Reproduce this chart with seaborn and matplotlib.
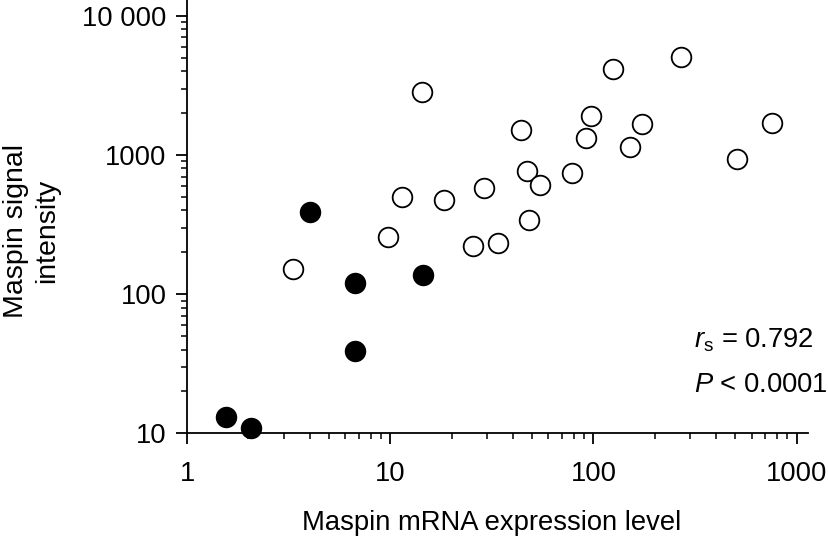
import matplotlib
matplotlib.use("Agg")
import matplotlib.pyplot as plt
import seaborn as sns
import numpy as np
import pandas as pd
from matplotlib.ticker import LogLocator, FixedLocator, NullFormatter

# ---- data ----
filled_x = [1.55, 2.06, 4.02, 6.69, 6.69, 14.4]
filled_y = [13.1, 10.9, 392, 120, 39.3, 137]
open_x = [3.30, 9.77, 11.4, 14.3, 18.4, 25.6, 29.0, 34.0, 43.8, 46.9, 48.1,
          54.5, 78.1, 91.5, 97.2, 125, 152, 173, 270, 511, 754]
open_y = [151, 256, 502, 2826, 475, 222, 577, 234, 1513, 773, 341,
          610, 740, 1321, 1919, 4160, 1138, 1675, 5047, 937, 1693]
x_ticks = [1, 10, 100, 1000]
x_ticklabels = ["1", "10", "100", "1000"]
y_ticks = [10, 100, 1000, 10000]
y_ticklabels = ["10", "100", "1000", "10 000"]
x_label = "Maspin mRNA expression level"
y_label = "Maspin signal\nintensity"
stat_lines = [r"$r_{\mathrm{s}}$ = 0.792", r"$P$ < 0.0001"]

sns.set_theme(style="ticks")
plt.rcParams["font.family"] = ["Liberation Sans", "DejaVu Sans"]
plt.rcParams["mathtext.fontset"] = "custom"
plt.rcParams["mathtext.rm"] = "Liberation Sans"
plt.rcParams["mathtext.it"] = "Liberation Sans:italic"
plt.rcParams["mathtext.bf"] = "Liberation Sans:bold"

W, H = 829, 538
fig = plt.figure(figsize=(W / 100, H / 100), dpi=100)
ax = fig.add_axes([187.3 / W, 1 - 433.3 / H, (808 - 187.3) / W, 433.3 / H])

df_open = pd.DataFrame({"x": open_x, "y": open_y})
df_filled = pd.DataFrame({"x": filled_x, "y": filled_y})

ms = 200
sns.scatterplot(data=df_open, x="x", y="y", ax=ax, s=ms, color="white",
                edgecolor="black", linewidth=1.3, clip_on=False, zorder=3)
sns.scatterplot(data=df_filled, x="x", y="y", ax=ax, s=ms, color="black",
                edgecolor="black", linewidth=1.3, clip_on=False, zorder=3)

ax.set_xscale("log")
ax.set_yscale("log")
ax.set_xlim(1, 1138)
ax.set_ylim(10, 13000)

ax.xaxis.set_major_locator(FixedLocator(x_ticks))
ax.set_xticklabels(x_ticklabels)
ax.yaxis.set_major_locator(FixedLocator(y_ticks))
ax.set_yticklabels(y_ticklabels)
ax.xaxis.set_minor_locator(LogLocator(base=10, subs=np.arange(2, 10)))
ax.yaxis.set_minor_locator(LogLocator(base=10, subs=np.arange(2, 10)))
ax.xaxis.set_minor_formatter(NullFormatter())
ax.yaxis.set_minor_formatter(NullFormatter())

fs = 19.7
ax.tick_params(axis="both", which="major", length=8, width=1.3, labelsize=fs,
               direction="out", color="black", labelcolor="black")
ax.tick_params(axis="both", which="minor", length=4.5, width=1.1,
               direction="out", color="black")
ax.tick_params(axis="x", which="major", pad=12)
ax.tick_params(axis="y", which="major", pad=7)

for side in ["top", "right"]:
    ax.spines[side].set_visible(False)
for side in ["left", "bottom"]:
    ax.spines[side].set_linewidth(1.3)
    ax.spines[side].set_color("black")

ax.set_xlabel("")
ax.set_ylabel("")
fig.text(492 / W, 1 - 530 / H, x_label, ha="center", va="baseline",
         fontsize=fs, color="black")
fig.text(32 / W, 1 - 231 / H, y_label, ha="center", va="center",
         rotation=90, multialignment="center", fontsize=20.5, color="black",
         linespacing=1.25)

fig.text(694 / W, 1 - 348 / H, stat_lines[0], ha="left", va="baseline",
         fontsize=fs, color="black")
fig.text(694 / W, 1 - 392 / H, stat_lines[1], ha="left", va="baseline",
         fontsize=fs, color="black")

fig.savefig("out.png", dpi=100, facecolor="white")
